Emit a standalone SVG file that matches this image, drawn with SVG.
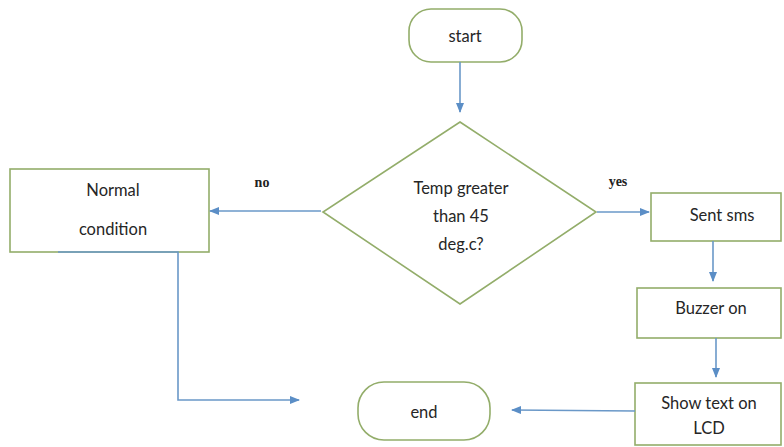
<svg xmlns="http://www.w3.org/2000/svg" width="784" height="447" viewBox="0 0 784 447">
<defs>
<marker id="ah" markerWidth="10" markerHeight="8" refX="9" refY="4" orient="auto" markerUnits="userSpaceOnUse">
<path d="M0,0 L10,4 L0,8 Z" fill="#5b8ec6"/>
</marker>
<style>
.shape{fill:#fff;stroke:#93ad6a;stroke-width:1.6}
.t{font-family:Lato,"Open Sans","Liberation Sans",sans-serif;font-size:16.5px;fill:#262626;text-anchor:middle}
.lbl{font-family:"Liberation Serif",serif;font-size:14px;font-weight:bold;fill:#222;text-anchor:middle}
.c{fill:none;stroke:#6a98c8;stroke-width:1.6}
</style>
</defs>
<rect width="784" height="447" fill="#fff"/>
<g id="start">
<rect class="shape" x="409" y="9" width="113" height="53" rx="22"/>
<text class="t" x="465" y="42">start</text>
</g>
<g id="decision">
<polygon class="shape" points="460,122 596,212 460,304 323,212"/>
<text class="t" x="461" y="194">Temp greater</text>
<text class="t" x="461" y="222">than 45</text>
<text class="t" x="461" y="250">deg.c?</text>
</g>
<g id="normal">
<rect class="shape" x="10" y="169" width="199" height="83"/>
<text class="t" x="113" y="196">Normal</text>
<text class="t" x="113" y="235">condition</text>
</g>
<g id="sms">
<rect class="shape" x="651" y="193" width="130" height="48"/>
<text class="t" x="722" y="221">Sent sms</text>
</g>
<g id="buzzer">
<rect class="shape" x="637" y="288" width="144" height="50"/>
<text class="t" x="711" y="314">Buzzer on</text>
</g>
<g id="show">
<rect class="shape" x="635" y="383" width="146" height="62"/>
<text class="t" x="709" y="409">Show text on</text>
<text class="t" x="709" y="434">LCD</text>
</g>
<g id="end">
<rect class="shape" x="358" y="382" width="132" height="58" rx="26"/>
<text class="t" x="424" y="418">end</text>
</g>
<g id="labels">
<text class="lbl" x="262" y="187">no</text>
<text class="lbl" x="618" y="186">yes</text>
</g>
<g id="connectors">
<line class="c" x1="460" y1="62" x2="460" y2="112" marker-end="url(#ah)"/>
<line class="c" x1="321" y1="211" x2="210" y2="211" marker-end="url(#ah)"/>
<line class="c" x1="597" y1="212" x2="649" y2="212" marker-end="url(#ah)"/>
<polyline class="c" points="58,252 178,252 178,400 299,400" marker-end="url(#ah)"/>
<line class="c" x1="713" y1="241" x2="713" y2="281" marker-end="url(#ah)"/>
<line class="c" x1="716" y1="338" x2="716" y2="377" marker-end="url(#ah)"/>
<line class="c" x1="635" y1="411" x2="512" y2="410" marker-end="url(#ah)"/>
</g>
</svg>
